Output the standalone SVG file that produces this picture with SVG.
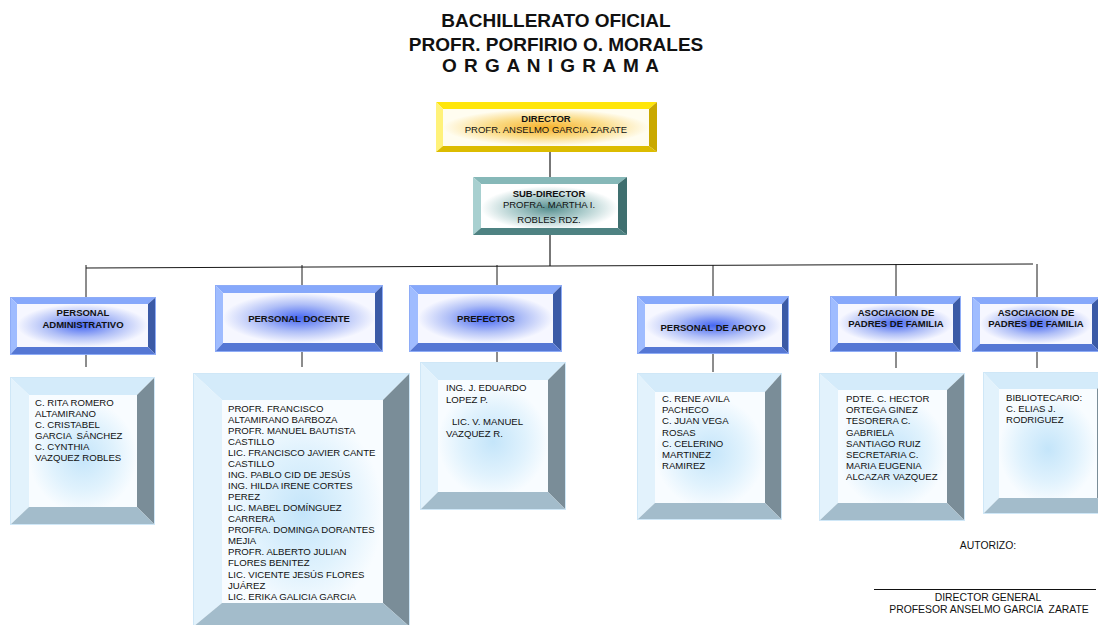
<svg xmlns="http://www.w3.org/2000/svg" width="1098" height="625" viewBox="0 0 1098 625">
  <defs>
    <radialGradient id="gGold" cx="0.5" cy="0.5" r="0.5">
      <stop offset="0" stop-color="#f6b22c"/>
      <stop offset="0.55" stop-color="#fbdc88"/>
      <stop offset="1" stop-color="#fffdf0"/>
    </radialGradient>
    <radialGradient id="gTeal" cx="0.5" cy="0.55" r="0.5">
      <stop offset="0" stop-color="#578f8f"/>
      <stop offset="0.55" stop-color="#b2d0d0"/>
      <stop offset="1" stop-color="#ffffff"/>
    </radialGradient>
    <radialGradient id="gBlue" cx="0.5" cy="0.5" r="0.5">
      <stop offset="0" stop-color="#4667f2"/>
      <stop offset="0.55" stop-color="#b0bff7"/>
      <stop offset="1" stop-color="#f6f7ff"/>
    </radialGradient>
    <radialGradient id="gSky" cx="0.5" cy="0.55" r="0.5">
      <stop offset="0" stop-color="#c4e5fa"/>
      <stop offset="0.6" stop-color="#e0f2fd"/>
      <stop offset="1" stop-color="#f8fcff"/>
    </radialGradient>
  </defs>
  <style>
    text { font-family: "Liberation Sans", Arial, sans-serif; fill: #111; }
    .title { font-size: 19px; font-weight: bold; text-anchor: middle; }
    .hd { font-size: 9.5px; font-weight: bold; text-anchor: middle; }
    .hn { font-size: 9.5px; text-anchor: middle; }
    .tx { font-size: 9.6px; }
    .ft { font-size: 10.4px; text-anchor: middle; }
    .gold .t { fill: #ffe60a; } .gold .l { fill: #fff27a; } .gold .r { fill: #c9a800; } .gold .b { fill: #dcbc00; }
    .gold .in { fill: url(#gGold); }
    .teal .t { fill: #86b8b8; } .teal .l { fill: #a8d0d0; } .teal .r { fill: #3f6f6f; } .teal .b { fill: #4e8282; }
    .teal .in { fill: url(#gTeal); }
    .blue .t { fill: #86a8fb; } .blue .l { fill: #9fbcff; } .blue .r { fill: #3b5aa6; } .blue .b { fill: #5577d4; }
    .blue .in { fill: url(#gBlue); }
    .blue .edge { fill: none; stroke: #8eacf7; stroke-width: 1; }
    .sky .t { fill: #d4ebfa; } .sky .l { fill: #e2f2fc; } .sky .r { fill: #7a8d98; } .sky .b { fill: #a3bccb; }
    .sky .in { fill: url(#gSky); }
    .sky .edge { fill: none; stroke: #cfe7f7; stroke-width: 1; }
    .conn line, .conn polyline { stroke: #1a1a1a; stroke-width: 1; fill: none; }
    .conn .top { stroke: #555; stroke-width: 1.6; }
  </style>

  <!-- heading -->
  <g id="heading">
    <text class="title" x="556" y="27">BACHILLERATO OFICIAL</text>
    <text class="title" x="556" y="51">PROFR. PORFIRIO O. MORALES</text>
    <text class="title" x="551" y="72" letter-spacing="1">O R G A N I G R A M A</text>
  </g>

  <!-- connectors -->
  <g id="connectors" class="conn">
    <line class="top" x1="550" y1="152" x2="550" y2="177"/>
    <line class="top" x1="550" y1="235" x2="550" y2="266"/>
    <polyline points="86,268 550,266 1033,264"/>
    <line x1="86" y1="265" x2="86" y2="297" stroke="#555"/>
    <line x1="302" y1="265" x2="302" y2="285"/>
    <line x1="497" y1="265" x2="497" y2="285"/>
    <line x1="713" y1="265" x2="713" y2="296"/>
    <line x1="896" y1="264" x2="896" y2="296"/>
    <line x1="1037" y1="264" x2="1037" y2="297"/>
    <line x1="86" y1="355" x2="86" y2="367" stroke="#555"/>
    <line x1="302" y1="352" x2="302" y2="367"/>
    <line x1="497" y1="352" x2="497" y2="362"/>
    <line x1="713" y1="354" x2="713" y2="372"/>
    <line x1="896" y1="352" x2="896" y2="368"/>
    <line x1="1037" y1="352" x2="1037" y2="368"/>
  </g>

  <!-- director -->
  <g id="director" class="gold">
    <polygon class="t" points="436,102 657,102 649,109 443,109"/>
    <polygon class="l" points="436,102 443,109 443,146 436,152"/>
    <polygon class="r" points="657,102 657,152 649,146 649,109"/>
    <polygon class="b" points="436,152 443,146 649,146 657,152"/>
    <rect class="in" x="443" y="109" width="206" height="37"/>
    <text class="hd" x="546" y="122">DIRECTOR</text>
    <text class="hn" x="546" y="133">PROFR. ANSELMO GARCIA ZARATE</text>
  </g>

  <!-- sub-director -->
  <g id="subdirector" class="teal">
    <polygon class="t" points="473,177 627,177 618,184 481,184"/>
    <polygon class="l" points="473,177 481,184 481,228 473,235"/>
    <polygon class="r" points="627,177 627,235 618,228 618,184"/>
    <polygon class="b" points="473,235 481,228 618,228 627,235"/>
    <rect class="in" x="481" y="184" width="137" height="44"/>
    <text class="hd" x="549" y="197">SUB-DIRECTOR</text>
    <text class="hn" x="549" y="208">PROFRA. MARTHA I.</text>
    <text class="hn" x="549" y="223">ROBLES RDZ.</text>
  </g>

  <!-- personal administrativo -->
  <g id="administrativo" class="blue">
    <polygon class="t" points="10,297 156,297 148,304 17,304"/>
    <polygon class="l" points="10,297 17,304 17,347 10,355"/>
    <polygon class="r" points="156,297 156,355 148,347 148,304"/>
    <polygon class="b" points="10,355 17,347 148,347 156,355"/>
    <rect class="in" x="17" y="304" width="131" height="43"/>
    <rect class="edge" x="10.5" y="297.5" width="145" height="57"/>
    <text class="hd" x="83" y="316">PERSONAL</text>
    <text class="hd" x="83" y="328">ADMINISTRATIVO</text>
  </g>
  <g id="administrativo-staff" class="sky">
    <polygon class="t" points="10,377 155,377 137,395 29,395"/>
    <polygon class="l" points="10,377 29,395 29,507 10,525"/>
    <polygon class="r" points="155,377 155,525 137,507 137,395"/>
    <polygon class="b" points="10,525 29,507 137,507 155,525"/>
    <rect class="in" x="29" y="395" width="108" height="112"/>
    <rect class="edge" x="10.5" y="377.5" width="144" height="147"/>
    <text class="tx" x="35" y="406">C. RITA ROMERO</text>
    <text class="tx" x="35" y="417">ALTAMIRANO</text>
    <text class="tx" x="35" y="428">C. CRISTABEL</text>
    <text class="tx" x="35" y="439" xml:space="preserve">GARCIA  SÁNCHEZ</text>
    <text class="tx" x="35" y="450">C. CYNTHIA</text>
    <text class="tx" x="35" y="461">VAZQUEZ ROBLES</text>
  </g>

  <!-- personal docente -->
  <g id="docente" class="blue">
    <polygon class="t" points="215,285 383,285 375,293 223,293"/>
    <polygon class="l" points="215,285 223,293 223,343 215,352"/>
    <polygon class="r" points="383,285 383,352 375,343 375,293"/>
    <polygon class="b" points="215,352 223,343 375,343 383,352"/>
    <rect class="in" x="223" y="293" width="152" height="50"/>
    <rect class="edge" x="215.5" y="285.5" width="167" height="66"/>
    <text class="hd" x="299" y="322">PERSONAL DOCENTE</text>
  </g>
  <g id="docente-staff" class="sky">
    <polygon class="t" points="193,373 410,373 383,400 222,400"/>
    <polygon class="l" points="193,373 222,400 222,603 193,627"/>
    <polygon class="r" points="410,373 410,627 383,603 383,400"/>
    <polygon class="b" points="193,627 222,603 383,603 410,627"/>
    <rect class="in" x="222" y="400" width="161" height="203"/>
    <rect class="edge" x="193.5" y="373.5" width="216" height="253"/>
    <text class="tx" x="228" y="412">PROFR. FRANCISCO</text>
    <text class="tx" x="228" y="423">ALTAMIRANO BARBOZA</text>
    <text class="tx" x="228" y="434">PROFR. MANUEL BAUTISTA</text>
    <text class="tx" x="228" y="445">CASTILLO</text>
    <text class="tx" x="228" y="456">LIC. FRANCISCO JAVIER CANTE</text>
    <text class="tx" x="228" y="467">CASTILLO</text>
    <text class="tx" x="228" y="478">ING. PABLO CID DE JESÚS</text>
    <text class="tx" x="228" y="489">ING. HILDA IRENE CORTES</text>
    <text class="tx" x="228" y="500">PEREZ</text>
    <text class="tx" x="228" y="511">LIC. MABEL DOMÍNGUEZ</text>
    <text class="tx" x="228" y="522">CARRERA</text>
    <text class="tx" x="228" y="533">PROFRA. DOMINGA DORANTES</text>
    <text class="tx" x="228" y="544">MEJIA</text>
    <text class="tx" x="228" y="555">PROFR. ALBERTO JULIAN</text>
    <text class="tx" x="228" y="566">FLORES BENITEZ</text>
    <text class="tx" x="228" y="578">LIC. VICENTE JESÚS FLORES</text>
    <text class="tx" x="228" y="589">JUÁREZ</text>
    <text class="tx" x="228" y="600">LIC. ERIKA GALICIA GARCIA</text>
  </g>

  <!-- prefectos -->
  <g id="prefectos" class="blue">
    <polygon class="t" points="409,285 562,285 553,294 418,294"/>
    <polygon class="l" points="409,285 418,294 418,343 409,352"/>
    <polygon class="r" points="562,285 562,352 553,343 553,294"/>
    <polygon class="b" points="409,352 418,343 553,343 562,352"/>
    <rect class="in" x="418" y="294" width="135" height="49"/>
    <rect class="edge" x="409.5" y="285.5" width="152" height="66"/>
    <text class="hd" x="486" y="322">PREFECTOS</text>
  </g>
  <g id="prefectos-staff" class="sky">
    <polygon class="t" points="420,362 566,362 548,380 438,380"/>
    <polygon class="l" points="420,362 438,380 438,492 420,510"/>
    <polygon class="r" points="566,362 566,510 548,492 548,380"/>
    <polygon class="b" points="420,510 438,492 548,492 566,510"/>
    <rect class="in" x="438" y="380" width="110" height="112"/>
    <rect class="edge" x="420.5" y="362.5" width="145" height="147"/>
    <text class="tx" x="446" y="391">ING. J. EDUARDO</text>
    <text class="tx" x="446" y="403">LOPEZ P.</text>
    <text class="tx" x="452" y="425">LIC. V. MANUEL</text>
    <text class="tx" x="446" y="437">VAZQUEZ R.</text>
  </g>

  <!-- personal de apoyo -->
  <g id="apoyo" class="blue">
    <polygon class="t" points="637,296 789,296 782,304 645,304"/>
    <polygon class="l" points="637,296 645,304 645,347 637,354"/>
    <polygon class="r" points="789,296 789,354 782,347 782,304"/>
    <polygon class="b" points="637,354 645,347 782,347 789,354"/>
    <rect class="in" x="645" y="304" width="137" height="43"/>
    <rect class="edge" x="637.5" y="296.5" width="151" height="57"/>
    <text class="hd" x="713" y="331">PERSONAL DE APOYO</text>
  </g>
  <g id="apoyo-staff" class="sky">
    <polygon class="t" points="637,373 782,373 765,392 655,392"/>
    <polygon class="l" points="637,373 655,392 655,503 637,520"/>
    <polygon class="r" points="782,373 782,520 765,503 765,392"/>
    <polygon class="b" points="637,520 655,503 765,503 782,520"/>
    <rect class="in" x="655" y="392" width="110" height="111"/>
    <rect class="edge" x="637.5" y="373.5" width="144" height="146"/>
    <text class="tx" x="662" y="402">C. RENE AVILA</text>
    <text class="tx" x="662" y="413">PACHECO</text>
    <text class="tx" x="662" y="424">C. JUAN VEGA</text>
    <text class="tx" x="662" y="436">ROSAS</text>
    <text class="tx" x="662" y="447">C. CELERINO</text>
    <text class="tx" x="662" y="458">MARTINEZ</text>
    <text class="tx" x="662" y="469">RAMIREZ</text>
  </g>

  <!-- asociacion de padres de familia -->
  <g id="asociacion" class="blue">
    <polygon class="t" points="830,296 961,296 953,304 838,304"/>
    <polygon class="l" points="830,296 838,304 838,343 830,352"/>
    <polygon class="r" points="961,296 961,352 953,343 953,304"/>
    <polygon class="b" points="830,352 838,343 953,343 961,352"/>
    <rect class="in" x="838" y="304" width="115" height="39"/>
    <rect class="edge" x="830.5" y="296.5" width="130" height="55"/>
    <text class="hd" x="896" y="316">ASOCIACION DE</text>
    <text class="hd" x="896" y="327">PADRES DE FAMILIA</text>
  </g>
  <g id="asociacion-staff" class="sky">
    <polygon class="t" points="819,373 965,373 947,390 838,390"/>
    <polygon class="l" points="819,373 838,390 838,503 819,521"/>
    <polygon class="r" points="965,373 965,521 947,503 947,390"/>
    <polygon class="b" points="819,521 838,503 947,503 965,521"/>
    <rect class="in" x="838" y="390" width="109" height="113"/>
    <rect class="edge" x="819.5" y="373.5" width="145" height="147"/>
    <text class="tx" x="846" y="402">PDTE. C. HECTOR</text>
    <text class="tx" x="846" y="413">ORTEGA GINEZ</text>
    <text class="tx" x="846" y="424">TESORERA C.</text>
    <text class="tx" x="846" y="436">GABRIELA</text>
    <text class="tx" x="846" y="447">SANTIAGO RUIZ</text>
    <text class="tx" x="846" y="458">SECRETARIA C.</text>
    <text class="tx" x="846" y="469">MARIA EUGENIA</text>
    <text class="tx" x="846" y="480">ALCAZAR VAZQUEZ</text>
  </g>

  <!-- second asociacion node -->
  <g id="asociacion-2" class="blue">
    <polygon class="t" points="972,297 1100,297 1092,304 980,304"/>
    <polygon class="l" points="972,297 980,304 980,344 972,352"/>
    <polygon class="r" points="1100,297 1100,352 1092,344 1092,304"/>
    <polygon class="b" points="972,352 980,344 1092,344 1100,352"/>
    <rect class="in" x="980" y="304" width="112" height="40"/>
    <rect class="edge" x="972.5" y="297.5" width="127" height="54"/>
    <text class="hd" x="1036" y="316">ASOCIACION DE</text>
    <text class="hd" x="1036" y="327">PADRES DE FAMILIA</text>
  </g>
  <g id="biblioteca-staff" class="sky">
    <polygon class="t" points="983,372 1115,372 1097,389 999,389"/>
    <polygon class="l" points="983,372 999,389 999,498 983,514"/>
    <polygon class="r" points="1115,372 1115,514 1097,498 1097,389"/>
    <polygon class="b" points="983,514 999,498 1097,498 1115,514"/>
    <rect class="in" x="999" y="389" width="98" height="109"/>
    <rect class="edge" x="983.5" y="372.5" width="131" height="141"/>
    <text class="tx" x="1006" y="401">BIBLIOTECARIO:</text>
    <text class="tx" x="1006" y="412">C. ELIAS J.</text>
    <text class="tx" x="1006" y="423">RODRIGUEZ</text>
  </g>

  <!-- signature block -->
  <g id="firma">
    <text class="ft" x="988" y="549">AUTORIZO:</text>
    <line x1="874" y1="589.5" x2="1096" y2="589.5" stroke="#111" stroke-width="1"/>
    <text class="ft" x="988" y="601">DIRECTOR GENERAL</text>
    <text class="ft" x="989" y="613" xml:space="preserve">PROFESOR ANSELMO GARCIA  ZARATE</text>
  </g>
</svg>
